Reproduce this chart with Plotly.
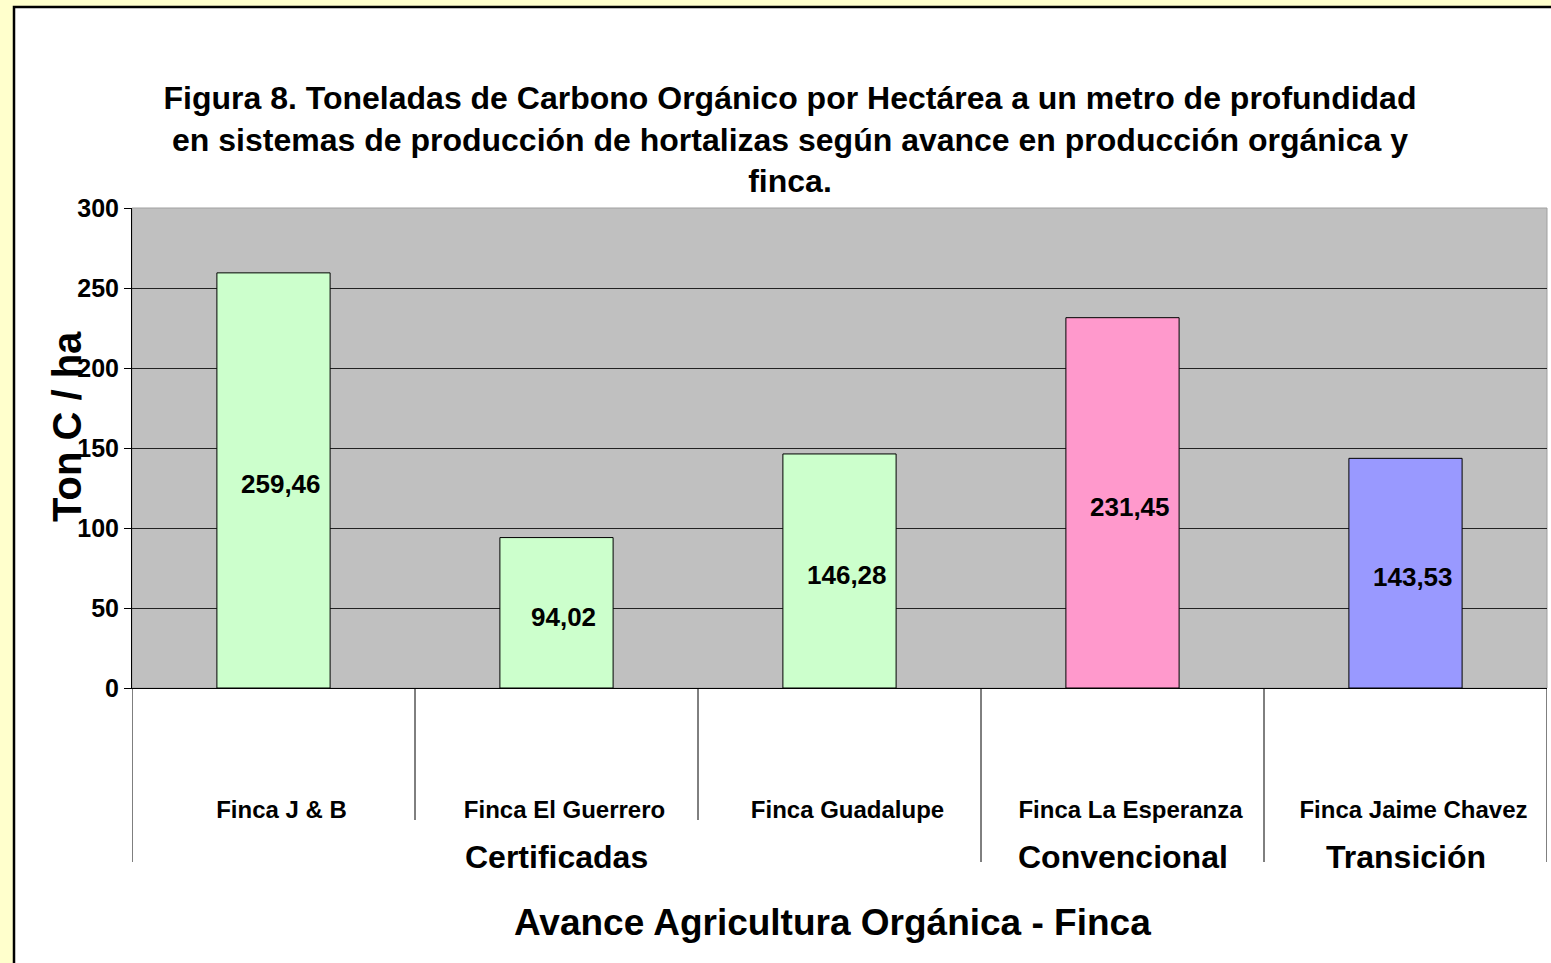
import plotly.graph_objects as go

# ---- data ----
farms = ["Finca J & B", "Finca El Guerrero", "Finca Guadalupe", "Finca La Esperanza", "Finca Jaime Chavez"]
groups = ["Certificadas", "Certificadas", "Certificadas", "Convencional", "Transición"]
values = [259.46, 94.02, 146.28, 231.45, 143.53]
bar_colors = ["#CCFFCC", "#CCFFCC", "#CCFFCC", "#FF99CC", "#9999FF"]
y_ticks = [0, 50, 100, 150, 200, 250, 300]

title_text = ("Figura 8. Toneladas de Carbono Orgánico por Hectárea a un metro de profundidad<br>"
              "en sistemas de producción de hortalizas según avance en producción orgánica y<br>"
              "finca.")
y_title = "Ton C / ha"
x_title = "Avance Agricultura Orgánica - Finca"

FONT = "Liberation Sans, Arial, sans-serif"

W, H = 1551, 963
L, R, T, B = 132, 4, 208, 275
pw, ph = W - L - R, H - T - B


def px_x(px):
    return (px - L) / pw


def px_y(py):
    return (H - B - py) / ph


idx = list(range(len(farms)))
labels = [f"{v:.2f}".replace(".", ",") for v in values]

fig = go.Figure()
fig.add_trace(go.Bar(
    x=idx, y=values,
    marker=dict(color=bar_colors, line=dict(color="#000000", width=1)),
    width=0.4,
    hovertext=farms,
    hoverinfo="text+y",
    showlegend=False,
))

shapes = []
# white frame with black border
shapes.append(dict(type="rect", xref="paper", yref="paper", layer="below",
                   x0=px_x(14), x1=px_x(1600), y0=px_y(1000), y1=px_y(7),
                   fillcolor="#FFFFFF", line=dict(color="#000000", width=2.5)))
# plot area background
shapes.append(dict(type="rect", xref="paper", yref="paper", layer="below",
                   x0=0, x1=1, y0=0, y1=1, fillcolor="#C0C0C0",
                   line=dict(color="#A0A0A0", width=1)))

# category dividers: short between farms, long at group boundaries
n = len(farms)
for i in range(n + 1):
    b = i - 0.5
    is_group_edge = (i == 0 or i == n or groups[i - 1] != groups[i])
    y_end = px_y(862) if is_group_edge else px_y(820)
    shapes.append(dict(type="line", xref="x", yref="paper", x0=b, x1=b,
                       y0=0, y1=y_end, line=dict(color="#000000", width=1)))

annotations = []
# value labels in the bars
for i, v in enumerate(values):
    annotations.append(dict(text=labels[i], x=i, xref="x", y=v / 2, yref="y",
                            xanchor="center", yanchor="middle", showarrow=False,
                            xshift=7, yshift=-4,
                            font=dict(family=FONT, size=26, color="#000000", weight="bold")))
# group labels
seen = []
for g in groups:
    if g not in seen:
        seen.append(g)
for g in seen:
    members = [i for i, gg in enumerate(groups) if gg == g]
    cx = (members[0] + members[-1]) / 2
    annotations.append(dict(text=g, x=cx, xref="x", y=px_y(857), yref="paper",
                            xanchor="center", yanchor="middle", showarrow=False,
                            font=dict(family=FONT, size=32, color="#000000", weight="bold")))
# axis titles
annotations.append(dict(text=x_title, x=px_x(832), xref="paper", y=px_y(922), yref="paper",
                        xanchor="center", yanchor="middle", showarrow=False,
                        font=dict(family=FONT, size=37, color="#000000", weight="bold")))
annotations.append(dict(text=y_title, x=px_x(67), xref="paper", y=px_y(427), yref="paper",
                        xanchor="center", yanchor="middle", showarrow=False, textangle=-90,
                        font=dict(family=FONT, size=40, color="#000000", weight="bold")))

fig.update_layout(
    width=W, height=H,
    margin=dict(l=L, r=R, t=T, b=B, autoexpand=False),
    paper_bgcolor="#FFFFCC",
    plot_bgcolor="#C0C0C0",
    title=dict(text=title_text, x=790 / W, xanchor="center", xref="container",
               y=1 - 109 / H, yanchor="top", yref="container",
               font=dict(family=FONT, size=32, color="#000000", weight="bold")),
    xaxis=dict(
        tickmode="array", tickvals=idx, ticktext=farms,
        range=[-0.5, n - 0.5],
        showgrid=False, zeroline=False,
        showline=True, linecolor="#000000", linewidth=1,
        ticks="",
        ticklabelstandoff=100,
        ticklabelshift=8,
        tickfont=dict(family=FONT, size=24, color="#000000", weight="bold"),
        fixedrange=True,
    ),
    yaxis=dict(
        range=[0, 300], tickvals=y_ticks,
        showgrid=True, gridcolor="#222222", gridwidth=1,
        zeroline=False,
        showline=True, linecolor="#000000", linewidth=1,
        ticks="outside", ticklen=7, tickcolor="#000000",
        tickfont=dict(family=FONT, size=25, color="#000000", weight="bold"),
        fixedrange=True,
    ),
    shapes=shapes,
    annotations=annotations,
    bargap=0.6,
)

fig.write_html("out.html", config={"displayModeBar": False},
               post_script="document.body.style.margin='0';")
